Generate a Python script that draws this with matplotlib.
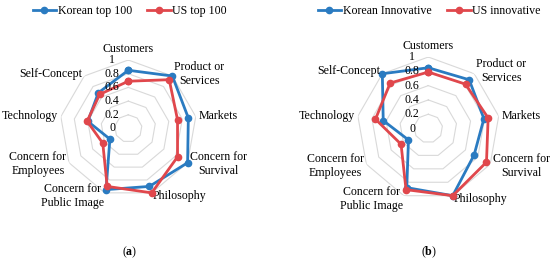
import numpy as np
import matplotlib
matplotlib.use("Agg")
import matplotlib.pyplot as plt
from matplotlib.transforms import offset_copy

plt.rcParams['font.family'] = ['Liberation Serif', 'DejaVu Serif']
plt.rcParams['mathtext.fontset'] = 'custom'
plt.rcParams['mathtext.rm'] = 'Liberation Serif'
plt.rcParams['mathtext.bf'] = 'Liberation Serif:bold'

categories = ["Customers", "Product or\nServices", "Markets", "Concern for\nSurvival",
              "Philosophy", "Concern for\nPublic Image", "Concern for\nEmployees",
              "Technology", "Self-Concept"]
ticks = [0, 0.2, 0.4, 0.6, 0.8, 1]
tick_labels = ["0", "0.2", "0.4", "0.6", "0.8", "1"]

# (a) top 100
korean_top = [0.85, 1.0, 0.89, 1.0, 0.90, 0.95, 0.31, 0.60, 0.68]
us_top = [0.69, 0.93, 0.73, 0.83, 1.0, 0.90, 0.43, 0.61, 0.65]
# (b) innovative
korean_inn = [0.85, 0.89, 0.79, 0.74, 1.0, 0.88, 0.32, 0.64, 1.0]
us_inn = [0.79, 0.81, 0.85, 0.94, 1.0, 0.91, 0.44, 0.75, 0.83]

BLUE = '#2a7bc1'
RED = '#e0474c'
GRID = '#d9d9d9'
FS = 8.6

fig = plt.figure(figsize=(5.5, 2.63), dpi=100)

n = len(categories)
theta = np.linspace(0, 2 * np.pi, n, endpoint=False)
theta_c = np.append(theta, theta[0])


def radar(rect, k_vals, u_vals, k_name, u_name, letter, leg_x):
    ax = fig.add_axes(rect, projection='polar')
    ax.set_theta_zero_location('N')
    ax.set_theta_direction(-1)
    ax.set_ylim(0, 1)
    ax.grid(False)
    ax.spines['polar'].set_visible(False)
    ax.set_xticks([])
    ax.set_yticks([])
    ax.patch.set_alpha(0)

    # polygon gridlines like the spreadsheet radar
    for r in ticks[1:]:
        ax.plot(theta_c, [r] * (n + 1), color=GRID, lw=0.8, zorder=1)

    tr = offset_copy(ax.transData, fig=fig, x=-16, y=0, units='dots')
    for r, lab in zip(ticks, tick_labels):
        ax.text(0, r, lab, transform=tr, ha='center', va='center', fontsize=FS, zorder=5)

    lk, = ax.plot(theta_c, k_vals + k_vals[:1], color=BLUE, lw=2, marker='o', ms=4.5,
                  zorder=3, clip_on=False)
    lu, = ax.plot(theta_c, u_vals + u_vals[:1], color=RED, lw=2, marker='o', ms=4.5,
                  zorder=4, clip_on=False)

    for i, (t, lab) in enumerate(zip(theta, categories)):
        deg = np.degrees(t)
        if i == 0:
            ax.text(t, 1.07, lab, ha='center', va='bottom', fontsize=FS)
            continue
        ha = 'left' if deg < 180 else 'right'
        ax.text(t, 1.045, lab, ha=ha, va='center', fontsize=FS,
                multialignment='center', clip_on=False)

    fig.legend([lk, lu], [k_name, u_name], loc='center', bbox_to_anchor=(leg_x, 0.958),
               ncol=2, frameon=False, fontsize=FS, handlelength=2.0, handletextpad=0.1,
               columnspacing=1.3, borderpad=0)
    fig.text(leg_x, 0.04, "(" + r"$\mathbf{" + letter + "}$" + ")", ha='center',
             va='center', fontsize=FS)


radar([0.1087, 0.251, 0.2491, 0.5209], korean_top, us_top,
      "Korean top 100", "US top 100", "a", 0.236)
radar([0.6487, 0.2395, 0.26, 0.5437], korean_inn, us_inn,
      "Korean Innovative", "US innovative", "b", 0.780)

fig.savefig("out.png", dpi=100)
